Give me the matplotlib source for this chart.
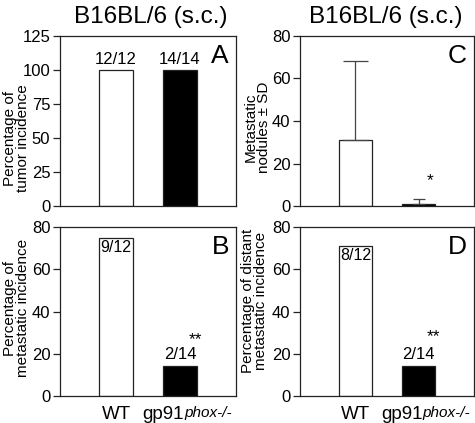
import matplotlib
matplotlib.use("Agg")
import matplotlib.pyplot as plt

groups = ["WT", "gp91"]
tumor_incidence = [100, 100]
tumor_labels = ["12/12", "14/14"]
met_incidence = [75, 14.3]
met_labels = ["9/12", "2/14"]
nodules_mean = [31, 1]
nodules_sd = [37, 2.5]
distant_incidence = [71, 14.3]
distant_labels = ["8/12", "2/14"]

plt.rcParams.update({"font.family": ["Liberation Sans", "DejaVu Sans"], "font.size": 11})

W, H = 475, 423
fig = plt.figure(figsize=(W / 100, H / 100), dpi=100)
EDGE = "#222222"
BAR_COLORS = ["white", "black"]
XPOS = [1, 2]


def px_axes(left, top, right, bottom):
    return fig.add_axes([left / W, 1 - bottom / H, (right - left) / W, (bottom - top) / H])


def setup(ax, ymax, step, ylabel, label_xy, letter):
    ax.set_xlim(0.12, 2.88)
    ax.set_ylim(0, ymax)
    ax.set_yticks(range(0, ymax + 1, step))
    ax.set_xticks([])
    for s in ax.spines.values():
        s.set_color(EDGE)
        s.set_linewidth(0.9)
    ax.tick_params(axis="y", direction="out", length=5, width=0.9, color=EDGE,
                   labelsize=12, pad=2)
    ax.set_ylabel(ylabel, fontsize=11, linespacing=0.9, va="center")
    ax.yaxis.set_label_coords(*label_xy)
    ax.text(0.96, 0.955, letter, transform=ax.transAxes, ha="right", va="top", fontsize=19)


def bars(ax, vals):
    ax.bar(XPOS, vals, width=0.53, color=BAR_COLORS, edgecolor=EDGE, linewidth=0.9)


def xlabels(ax):
    ax.annotate("WT", xy=(1, 0), xycoords=("data", "axes fraction"), xytext=(0, -7),
                textcoords="offset points", ha="center", va="top", fontsize=13.5)
    ax.annotate("gp91", xy=(2, 0), xycoords=("data", "axes fraction"), xytext=(-12, -7),
                textcoords="offset points", ha="center", va="top", fontsize=13.5)
    ax.annotate("phox-/-", xy=(2, 0), xycoords=("data", "axes fraction"), xytext=(3, -7),
                textcoords="offset points", ha="left", va="top", fontsize=11, style="italic")


# Panel A
axA = px_axes(60, 36, 236, 206)
bars(axA, tumor_incidence)
setup(axA, 125, 25, "Percentage of\ntumor incidence", (-0.245, 0.40), "A")
for x, v, t in zip(XPOS, tumor_incidence, tumor_labels):
    axA.text(x, v + 2, t, ha="center", va="bottom", fontsize=12)

# Panel B
axB = px_axes(60, 227, 236, 396)
bars(axB, met_incidence)
setup(axB, 80, 20, "Percentage of\nmetastatic incidence", (-0.245, 0.52), "B")
axB.text(1, met_incidence[0] - 1, met_labels[0], ha="center", va="top", fontsize=11.5)
axB.text(2, met_incidence[1] + 2, met_labels[1], ha="center", va="bottom", fontsize=12)
axB.text(2.24, 26.5, "**", ha="center", va="center", fontsize=12.5)
xlabels(axB)

# Panel C
axC = px_axes(300, 36, 474, 206)
bars(axC, nodules_mean)
for x, m, sd, cs in zip(XPOS, nodules_mean, nodules_sd, [9, 4]):
    axC.errorbar(x, m, yerr=[[0], [sd]], color="#444444", elinewidth=0.9,
                 capsize=cs, capthick=0.9, fmt="none")
setup(axC, 80, 20, "Metastatic\nnodules \u00b1 SD", (-0.245, 0.465), "C")
axC.text(2.18, 12, "*", ha="center", va="center", fontsize=12.5)

# Panel D
axD = px_axes(300, 227, 474, 396)
bars(axD, distant_incidence)
setup(axD, 80, 20, "Percentage of distant\nmetastatic incidence", (-0.259, 0.56), "D")
axD.text(1, distant_incidence[0] - 1, distant_labels[0], ha="center", va="top", fontsize=11.5)
axD.text(2, distant_incidence[1] + 2, distant_labels[1], ha="center", va="bottom", fontsize=12)
axD.text(2.245, 28, "**", ha="center", va="center", fontsize=12.5)
xlabels(axD)

fig.text(151 / W, 1 - 17 / H, "B16BL/6 (s.c.)", ha="center", va="center", fontsize=17.5)
fig.text(386 / W, 1 - 17 / H, "B16BL/6 (s.c.)", ha="center", va="center", fontsize=17.5)

fig.savefig("out.png", dpi=100)
